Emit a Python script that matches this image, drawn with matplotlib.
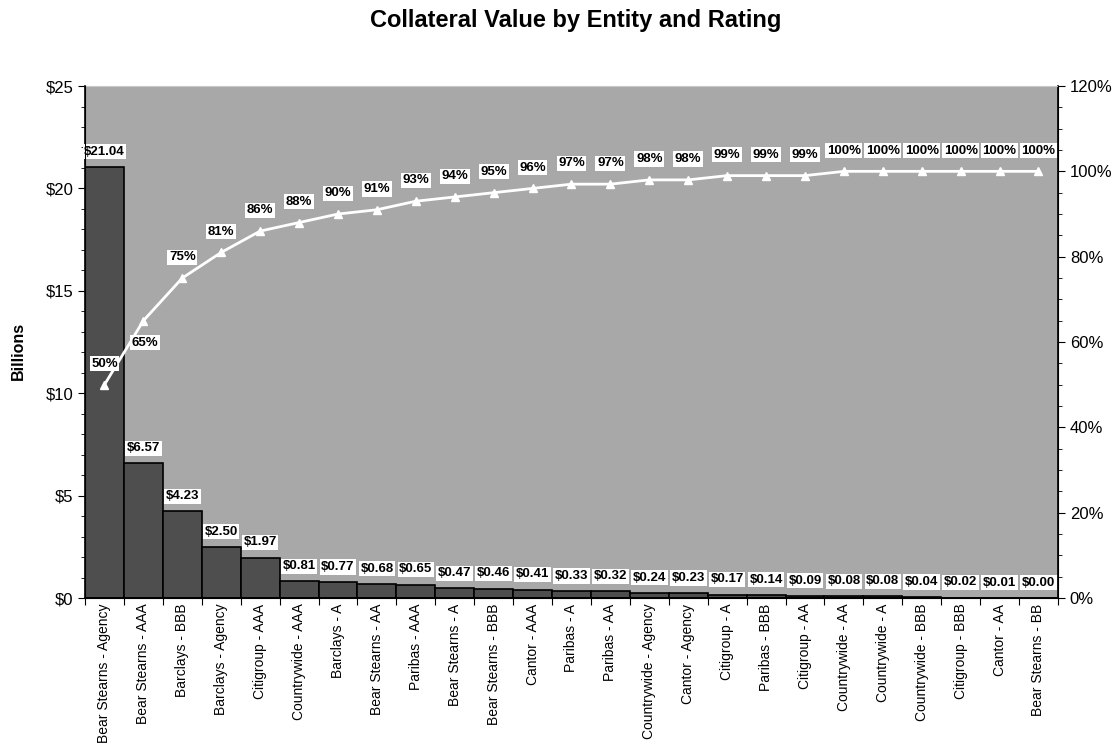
import matplotlib
matplotlib.use("Agg")
import matplotlib.pyplot as plt
from matplotlib.ticker import MultipleLocator, FuncFormatter, FixedLocator, NullFormatter

plt.rcParams['font.family'] = ['Liberation Sans', 'DejaVu Sans']

categories = ["Bear Stearns - Agency", "Bear Stearns - AAA", "Barclays - BBB", "Barclays - Agency",
              "Citigroup - AAA", "Countrywide - AAA", "Barclays - A", "Bear Stearns - AA",
              "Paribas - AAA", "Bear Stearns - A", "Bear Stearns - BBB", "Cantor - AAA",
              "Paribas - A", "Paribas - AA", "Countrywide - Agency", "Cantor - Agency",
              "Citigroup - A", "Paribas - BBB", "Citigroup - AA", "Countrywide - AA",
              "Countrywide - A", "Countrywide - BBB", "Citigroup - BBB", "Cantor - AA",
              "Bear Stearns - BB"]
values = [21.04, 6.57, 4.23, 2.50, 1.97, 0.81, 0.77, 0.68, 0.65, 0.47, 0.46, 0.41, 0.33,
          0.32, 0.24, 0.23, 0.17, 0.14, 0.09, 0.08, 0.08, 0.04, 0.02, 0.01, 0.00]
cum_pct = [50, 65, 75, 81, 86, 88, 90, 91, 93, 94, 95, 96, 97, 97, 98, 98, 99, 99, 99,
           100, 100, 100, 100, 100, 100]

fig = plt.figure(figsize=(11.2, 7.48), dpi=100)
ax = fig.add_axes([0.0759, 0.2005, 0.8687, 0.6845])
ax.set_facecolor('#a8a8a8')

x = list(range(len(categories)))
ax.bar(x, values, width=1.0, color='#4e4e4e', edgecolor='black', linewidth=1.2, zorder=2)
ax.set_xlim(-0.5, len(categories) - 0.5)
ax.set_ylim(0, 25)

ax.yaxis.set_major_locator(MultipleLocator(5))
ax.yaxis.set_minor_locator(MultipleLocator(1))
ax.yaxis.set_major_formatter(FuncFormatter(lambda v, p: f"${v:.0f}"))
ax.tick_params(axis='y', which='major', length=5, labelsize=12, direction='out')
ax.tick_params(axis='y', which='minor', length=3, direction='out')
ax.set_ylabel("Billions", fontsize=11.5, fontweight='bold')
ax.yaxis.set_label_coords(-0.061, 0.482)

# x ticks: marks at boundaries, labels at centers
ax.xaxis.set_major_locator(FixedLocator([i - 0.5 for i in range(len(categories) + 1)]))
ax.xaxis.set_major_formatter(NullFormatter())
ax.xaxis.set_minor_locator(FixedLocator(x))
ax.set_xticklabels(categories, minor=True, rotation=90, fontsize=10)
ax.tick_params(axis='x', which='major', length=5, direction='out')
ax.tick_params(axis='x', which='minor', length=0, pad=4)

for s in ['left', 'bottom', 'right']:
    ax.spines[s].set_linewidth(1.2)
ax.spines['top'].set_color('#c8c8c8')

for xi, v in zip(x, values):
    ax.annotate(f"${v:.2f}", (xi, v), xytext=(0, 11), textcoords='offset points',
                ha='center', va='center', fontsize=9.5, fontweight='bold', zorder=5,
                bbox=dict(boxstyle='square,pad=0.12', fc='white', ec='none'))

ax2 = ax.twinx()
ax2.set_ylim(0, 120)
ax2.yaxis.set_major_locator(MultipleLocator(20))
ax2.yaxis.set_minor_locator(MultipleLocator(5))
ax2.yaxis.set_major_formatter(FuncFormatter(lambda v, p: f"{v:.0f}%"))
ax2.tick_params(axis='y', which='major', length=5, labelsize=12, direction='out')
ax2.tick_params(axis='y', which='minor', length=3, direction='out')
ax2.spines['top'].set_visible(False)

ax2.plot(x, cum_pct, color='white', linewidth=2, marker='^', markersize=6,
         markerfacecolor='white', markeredgecolor='white', zorder=3)
for i, (xi, p) in enumerate(zip(x, cum_pct)):
    off = (1, -16) if i == 1 else (0, 15)
    ax2.annotate(f"{p}%", (xi, p), xytext=off, textcoords='offset points',
                 ha='center', va='center', fontsize=9.5, fontweight='bold', zorder=5,
                 bbox=dict(boxstyle='square,pad=0.12', fc='white', ec='none'))

fig.text(0.514, 0.973, "Collateral Value by Entity and Rating", ha='center', va='center',
         fontsize=17, fontweight='bold')

fig.savefig("out.png", dpi=100)
